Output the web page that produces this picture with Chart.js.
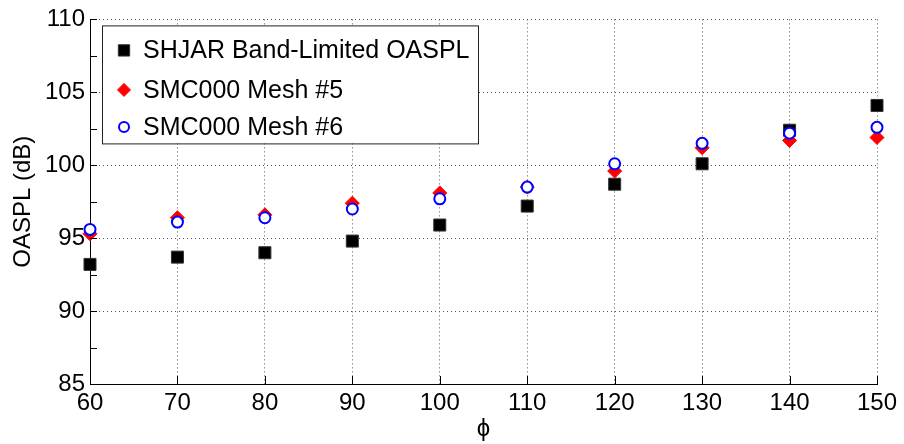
<!DOCTYPE html>
<html>
<head>
<meta charset="utf-8">
<script src="https://cdn.jsdelivr.net/npm/chart.js@4.4.1/dist/chart.umd.min.js"></script>
<style>
  html, body { margin: 0; padding: 0; background: #fff; }
</style>
</head>
<body>
<canvas id="oaspl_chart" width="904" height="444"></canvas>
<script>
// values
var angles = [60, 70, 80, 90, 100, 110, 120, 130, 140, 150];
var shjarOaspl = [93.2, 93.7, 94.0, 94.8, 95.9, 97.2, 98.7, 100.1, 102.4, 104.1];
var mesh5Oaspl = [95.3, 96.4, 96.6, 97.4, 98.1, 98.5, 99.6, 101.2, 101.7, 101.9];
var mesh6Oaspl = [95.6, 96.1, 96.4, 97.0, 97.7, 98.5, 100.1, 101.5, 102.2, 102.6];
var seriesNames = ['SHJAR Band-Limited OASPL', 'SMC000 Mesh #5', 'SMC000 Mesh #6'];
var xMin = 60, xMax = 150, xStep = 10;
var yMin = 85, yMax = 110, yStep = 5;

var FONT = 'Liberation Sans, Arial, Helvetica, sans-serif';

function toPoints(vals) {
    return angles.map(function (a, i) { return { x: a, y: vals[i] }; });
}

// legend drawn inside the axes, like matlab does
var boxLegend = {
    id: 'boxLegend',
    afterDraw: function (chart) {
        var ctx = chart.ctx;
        var area = chart.chartArea;
        var bx = area.left + 12, by = area.top + 6, bw = 376, bh = 118;
        ctx.save();
        ctx.fillStyle = '#fff';
        ctx.fillRect(bx, by, bw, bh);
        ctx.strokeStyle = '#222';
        ctx.lineWidth = 1;
        ctx.strokeRect(bx + 0.5, by + 0.5, bw, bh);
        var rows = [25, 64.5, 101.5];
        var sizes = [8, 6.5, 5];
        ctx.font = '25px ' + FONT;
        ctx.textBaseline = 'middle';
        ctx.fillStyle = '#000';
        chart.data.datasets.forEach(function (ds, i) {
            var y = by + rows[i];
            ctx.fillStyle = ds.backgroundColor;
            ctx.strokeStyle = ds.borderColor;
            ctx.lineWidth = ds.borderWidth;
            Chart.helpers.drawPoint(ctx, { pointStyle: ds.pointStyle, radius: sizes[i], borderWidth: ds.borderWidth }, bx + 22, y);
            ctx.fillStyle = '#000';
            ctx.fillText(seriesNames[i], bx + 41, y + 1);
        });
        ctx.restore();
    }
};

// inward tick marks, with minor ticks on y
var innerTicks = {
    id: 'innerTicks',
    afterDatasetsDraw: function (chart) {
        var ctx = chart.ctx;
        var area = chart.chartArea;
        var xs = chart.scales.x, ys = chart.scales.y;
        ctx.save();
        ctx.strokeStyle = '#000';
        ctx.lineWidth = 1;
        ctx.beginPath();
        for (var v = xMin; v <= xMax; v += xStep) {
            var px = Math.round(xs.getPixelForValue(v)) + 0.5;
            ctx.moveTo(px, area.bottom);
            ctx.lineTo(px, area.bottom - 8);
        }
        for (var w = yMin; w <= yMax; w += yStep / 2) {
            var py = Math.round(ys.getPixelForValue(w)) + 0.5;
            ctx.moveTo(area.left, py);
            ctx.lineTo(area.left + 7, py);
        }
        ctx.stroke();
        ctx.restore();
    }
};

var ctx = document.getElementById('oaspl_chart').getContext('2d');
var oasplChart = new Chart(ctx, {
    type: 'scatter',
    data: {
        datasets: [{
            label: seriesNames[0],
            data: toPoints(shjarOaspl),
            pointStyle: 'rect',
            pointRadius: 8.5,
            backgroundColor: '#000',
            borderColor: '#333',
            borderWidth: 1,
            clip: false,
            order: 3
        }, {
            label: seriesNames[1],
            data: toPoints(mesh5Oaspl),
            pointStyle: 'rectRot',
            pointRadius: 7,
            backgroundColor: '#ff0000',
            borderColor: '#ff0000',
            borderWidth: 1,
            clip: false,
            order: 2
        }, {
            label: seriesNames[2],
            data: toPoints(mesh6Oaspl),
            pointStyle: 'circle',
            pointRadius: 5.5,
            backgroundColor: '#fff',
            borderColor: '#0000ff',
            borderWidth: 2,
            clip: false,
            order: 1
        }]
    },
    options: {
        responsive: false,
        animation: false,
        devicePixelRatio: 1,
        layout: { padding: { top: 14, right: 27, left: 0, bottom: 0 } },
        plugins: {
            legend: { display: false },
            tooltip: { enabled: false }
        },
        scales: {
            x: {
                type: 'linear',
                min: xMin,
                max: xMax,
                afterFit: function (s) { s.height = 60; },
                ticks: {
                    stepSize: xStep,
                    color: '#000',
                    padding: 5,
                    maxRotation: 0,
                    font: { family: FONT, size: 24 }
                },
                grid: {
                    color: '#555',
                    drawTicks: false
                },
                border: { display: true, color: '#000', width: 1, dash: [1, 3] },
                title: {
                    display: true,
                    text: 'ϕ',
                    color: '#000',
                    font: { family: FONT, size: 24 },
                    padding: { top: 0, bottom: 0 }
                }
            },
            y: {
                min: yMin,
                max: yMax,
                afterFit: function (s) { s.width = 90; },
                ticks: {
                    stepSize: yStep,
                    color: '#000',
                    padding: 5,
                    font: { family: FONT, size: 24 }
                },
                grid: {
                    color: '#555',
                    drawTicks: false
                },
                border: { display: true, color: '#000', width: 1, dash: [1, 3] },
                title: {
                    display: true,
                    text: 'OASPL (dB)',
                    color: '#000',
                    font: { family: FONT, size: 24 },
                    padding: { top: 9, bottom: 0 }
                }
            }
        }
    },
    plugins: [innerTicks, boxLegend]
});
</script>
</body>
</html>
